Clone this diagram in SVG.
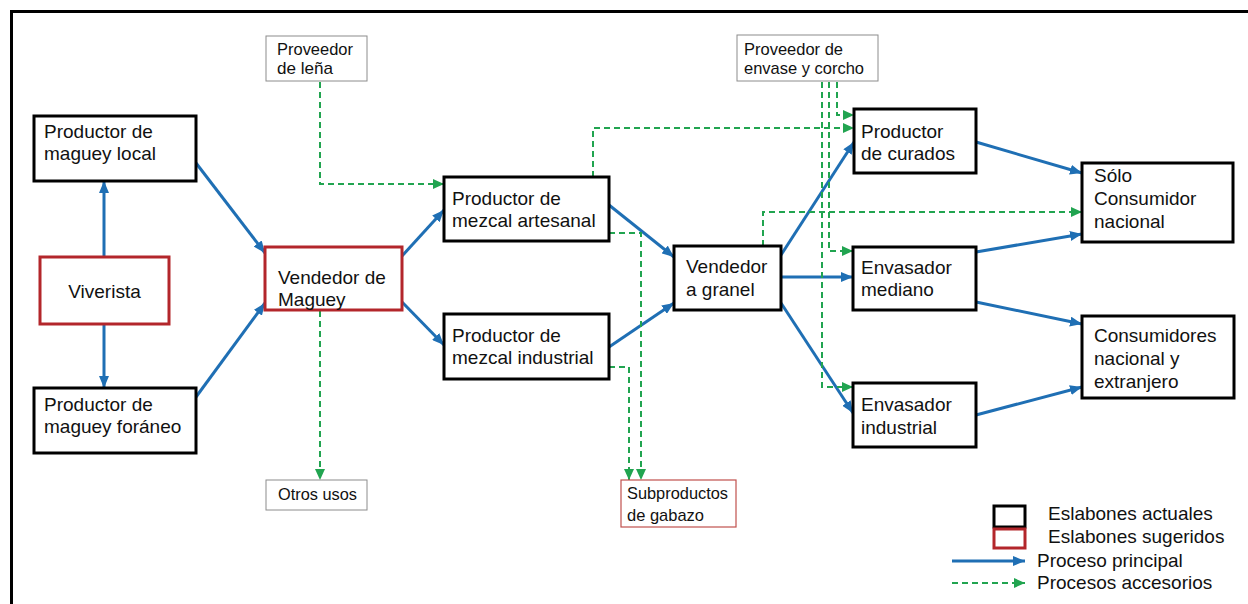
<svg xmlns="http://www.w3.org/2000/svg" width="1248" height="604" viewBox="0 0 1248 604">
<defs>
<style>
.main{fill:#fff;stroke:#000;stroke-width:3}
.sug{fill:#fff;stroke:#b3262b;stroke-width:3}
.aux{fill:#fff;stroke:#8c8c8c;stroke-width:1}
.auxr{fill:#fff;stroke:#c0504d;stroke-width:1.2}
.t{font-family:"Liberation Sans",Arial,sans-serif;font-size:19px;fill:#111}
.s{font-family:"Liberation Sans",Arial,sans-serif;font-size:17px;fill:#111}
.blue{fill:none;stroke:#1f6fb4;stroke-width:3;marker-end:url(#ab)}
.green{fill:none;stroke:#21a450;stroke-width:2;stroke-dasharray:6 4;marker-end:url(#ag)}
</style>
<marker id="ab" markerUnits="userSpaceOnUse" markerWidth="12" markerHeight="10" refX="12" refY="5" orient="auto">
<path d="M0,0 L12,5 L0,10 z" fill="#1f6fb4"/>
</marker>
<marker id="ag" markerUnits="userSpaceOnUse" markerWidth="11" markerHeight="10" refX="11" refY="5" orient="auto">
<path d="M0,0 L11,5 L0,10 z" fill="#21a450"/>
</marker>
</defs>
<rect width="1248" height="604" fill="#fff"/>
<path d="M11.5,604 V11.5 H1248" fill="none" stroke="#000" stroke-width="3"/>

<g id="connectors">
<path class="blue" d="M104,257 L104,181"/>
<path class="blue" d="M104,324 L104,388"/>
<path class="blue" d="M196,163 L265,253"/>
<path class="blue" d="M196,397 L265,303"/>
<path class="blue" d="M402,256 L444,210"/>
<path class="blue" d="M402,302 L444,345"/>
<path class="blue" d="M609,205 L674,257"/>
<path class="blue" d="M609,347 L674,303"/>
<path class="blue" d="M781,255 L854,142"/>
<path class="blue" d="M781,277 L853,277"/>
<path class="blue" d="M781,303 L853,413"/>
<path class="blue" d="M976,142 L1082,173"/>
<path class="blue" d="M976,252 L1082,234"/>
<path class="blue" d="M976,302 L1082,324"/>
<path class="blue" d="M976,415 L1082,387"/>
<path class="green" d="M320,82 V184 H444"/>
<path class="green" d="M320,311 V480"/>
<path class="green" d="M593,177 V128 H854"/>
<path class="green" d="M609,233 H641 V480"/>
<path class="green" d="M609,367 H629 V480"/>
<path class="green" d="M763,246 V212 H1082"/>
<path class="green" d="M837,82 V115 H854"/>
<path class="green" d="M829,82 V251 H853"/>
<path class="green" d="M822,82 V387 H853"/>
</g>

<g id="n-productor-local">
<rect class="main" x="34" y="116" width="162" height="65"/>
<text class="t" x="44" y="138">Productor de</text>
<text class="t" x="44" y="160">maguey local</text>
</g>
<g id="n-viverista">
<rect class="sug" x="40" y="257" width="129" height="67"/>
<text class="t" x="104.5" y="298" text-anchor="middle">Viverista</text>
</g>
<g id="n-productor-foraneo">
<rect class="main" x="34" y="388" width="162" height="65"/>
<text class="t" x="44" y="411">Productor de</text>
<text class="t" x="44" y="433">maguey foráneo</text>
</g>
<g id="n-vendedor-maguey">
<rect class="sug" x="265" y="247" width="137" height="63"/>
<text class="t" x="278" y="284">Vendedor de</text>
<text class="t" x="278" y="306">Maguey</text>
</g>
<g id="n-proveedor-lena">
<rect class="aux" x="266" y="36" width="101" height="45"/>
<text class="s" x="277" y="55" textLength="76" lengthAdjust="spacingAndGlyphs">Proveedor</text>
<text class="s" x="277" y="74" textLength="56" lengthAdjust="spacingAndGlyphs">de leña</text>
</g>
<g id="n-otros-usos">
<rect class="aux" x="266" y="480" width="101" height="30"/>
<text class="s" x="278" y="500" textLength="79" lengthAdjust="spacingAndGlyphs">Otros usos</text>
</g>
<g id="n-artesanal">
<rect class="main" x="444" y="177" width="165" height="64"/>
<text class="t" x="452" y="205">Productor de</text>
<text class="t" x="452" y="227">mezcal artesanal</text>
</g>
<g id="n-industrial">
<rect class="main" x="444" y="314" width="165" height="65"/>
<text class="t" x="452" y="342">Productor de</text>
<text class="t" x="452" y="364">mezcal industrial</text>
</g>
<g id="n-vendedor-granel">
<rect class="main" x="674" y="246" width="107" height="64"/>
<text class="t" x="686" y="273">Vendedor</text>
<text class="t" x="686" y="296">a granel</text>
</g>
<g id="n-subproductos">
<rect class="auxr" x="621" y="480" width="115" height="47"/>
<text class="s" x="627" y="499" textLength="101" lengthAdjust="spacingAndGlyphs">Subproductos</text>
<text class="s" x="627" y="521" textLength="77" lengthAdjust="spacingAndGlyphs">de gabazo</text>
</g>
<g id="n-proveedor-envase">
<rect class="aux" x="737" y="35" width="141" height="46"/>
<text class="s" x="744" y="55" textLength="99" lengthAdjust="spacingAndGlyphs">Proveedor de</text>
<text class="s" x="744" y="74" textLength="120" lengthAdjust="spacingAndGlyphs">envase y corcho</text>
</g>
<g id="n-curados">
<rect class="main" x="854" y="109" width="122" height="64"/>
<text class="t" x="861" y="138">Productor</text>
<text class="t" x="861" y="160">de curados</text>
</g>
<g id="n-mediano">
<rect class="main" x="853" y="247" width="123" height="63"/>
<text class="t" x="861" y="274">Envasador</text>
<text class="t" x="861" y="296">mediano</text>
</g>
<g id="n-env-industrial">
<rect class="main" x="853" y="383" width="123" height="64"/>
<text class="t" x="861" y="411">Envasador</text>
<text class="t" x="861" y="434">industrial</text>
</g>
<g id="n-solo-nacional">
<rect class="main" x="1082" y="163" width="151" height="79"/>
<text class="t" x="1094" y="182">Sólo</text>
<text class="t" x="1094" y="205">Consumidor</text>
<text class="t" x="1094" y="228">nacional</text>
</g>
<g id="n-consumidores">
<rect class="main" x="1082" y="316" width="152" height="82"/>
<text class="t" x="1094" y="342">Consumidores</text>
<text class="t" x="1094" y="365">nacional y</text>
<text class="t" x="1094" y="388">extranjero</text>
</g>

<g id="legend">
<rect class="main" x="994" y="506" width="31" height="21"/>
<rect class="sug" x="994" y="529" width="31" height="19"/>
<text class="t" x="1048" y="520">Eslabones actuales</text>
<text class="t" x="1048" y="543">Eslabones sugeridos</text>
<path class="blue" d="M952,561 H1025"/>
<text class="t" x="1037" y="567">Proceso principal</text>
<path class="green" d="M952,583 H1025"/>
<text class="t" x="1037" y="589">Procesos accesorios</text>
</g>
</svg>
